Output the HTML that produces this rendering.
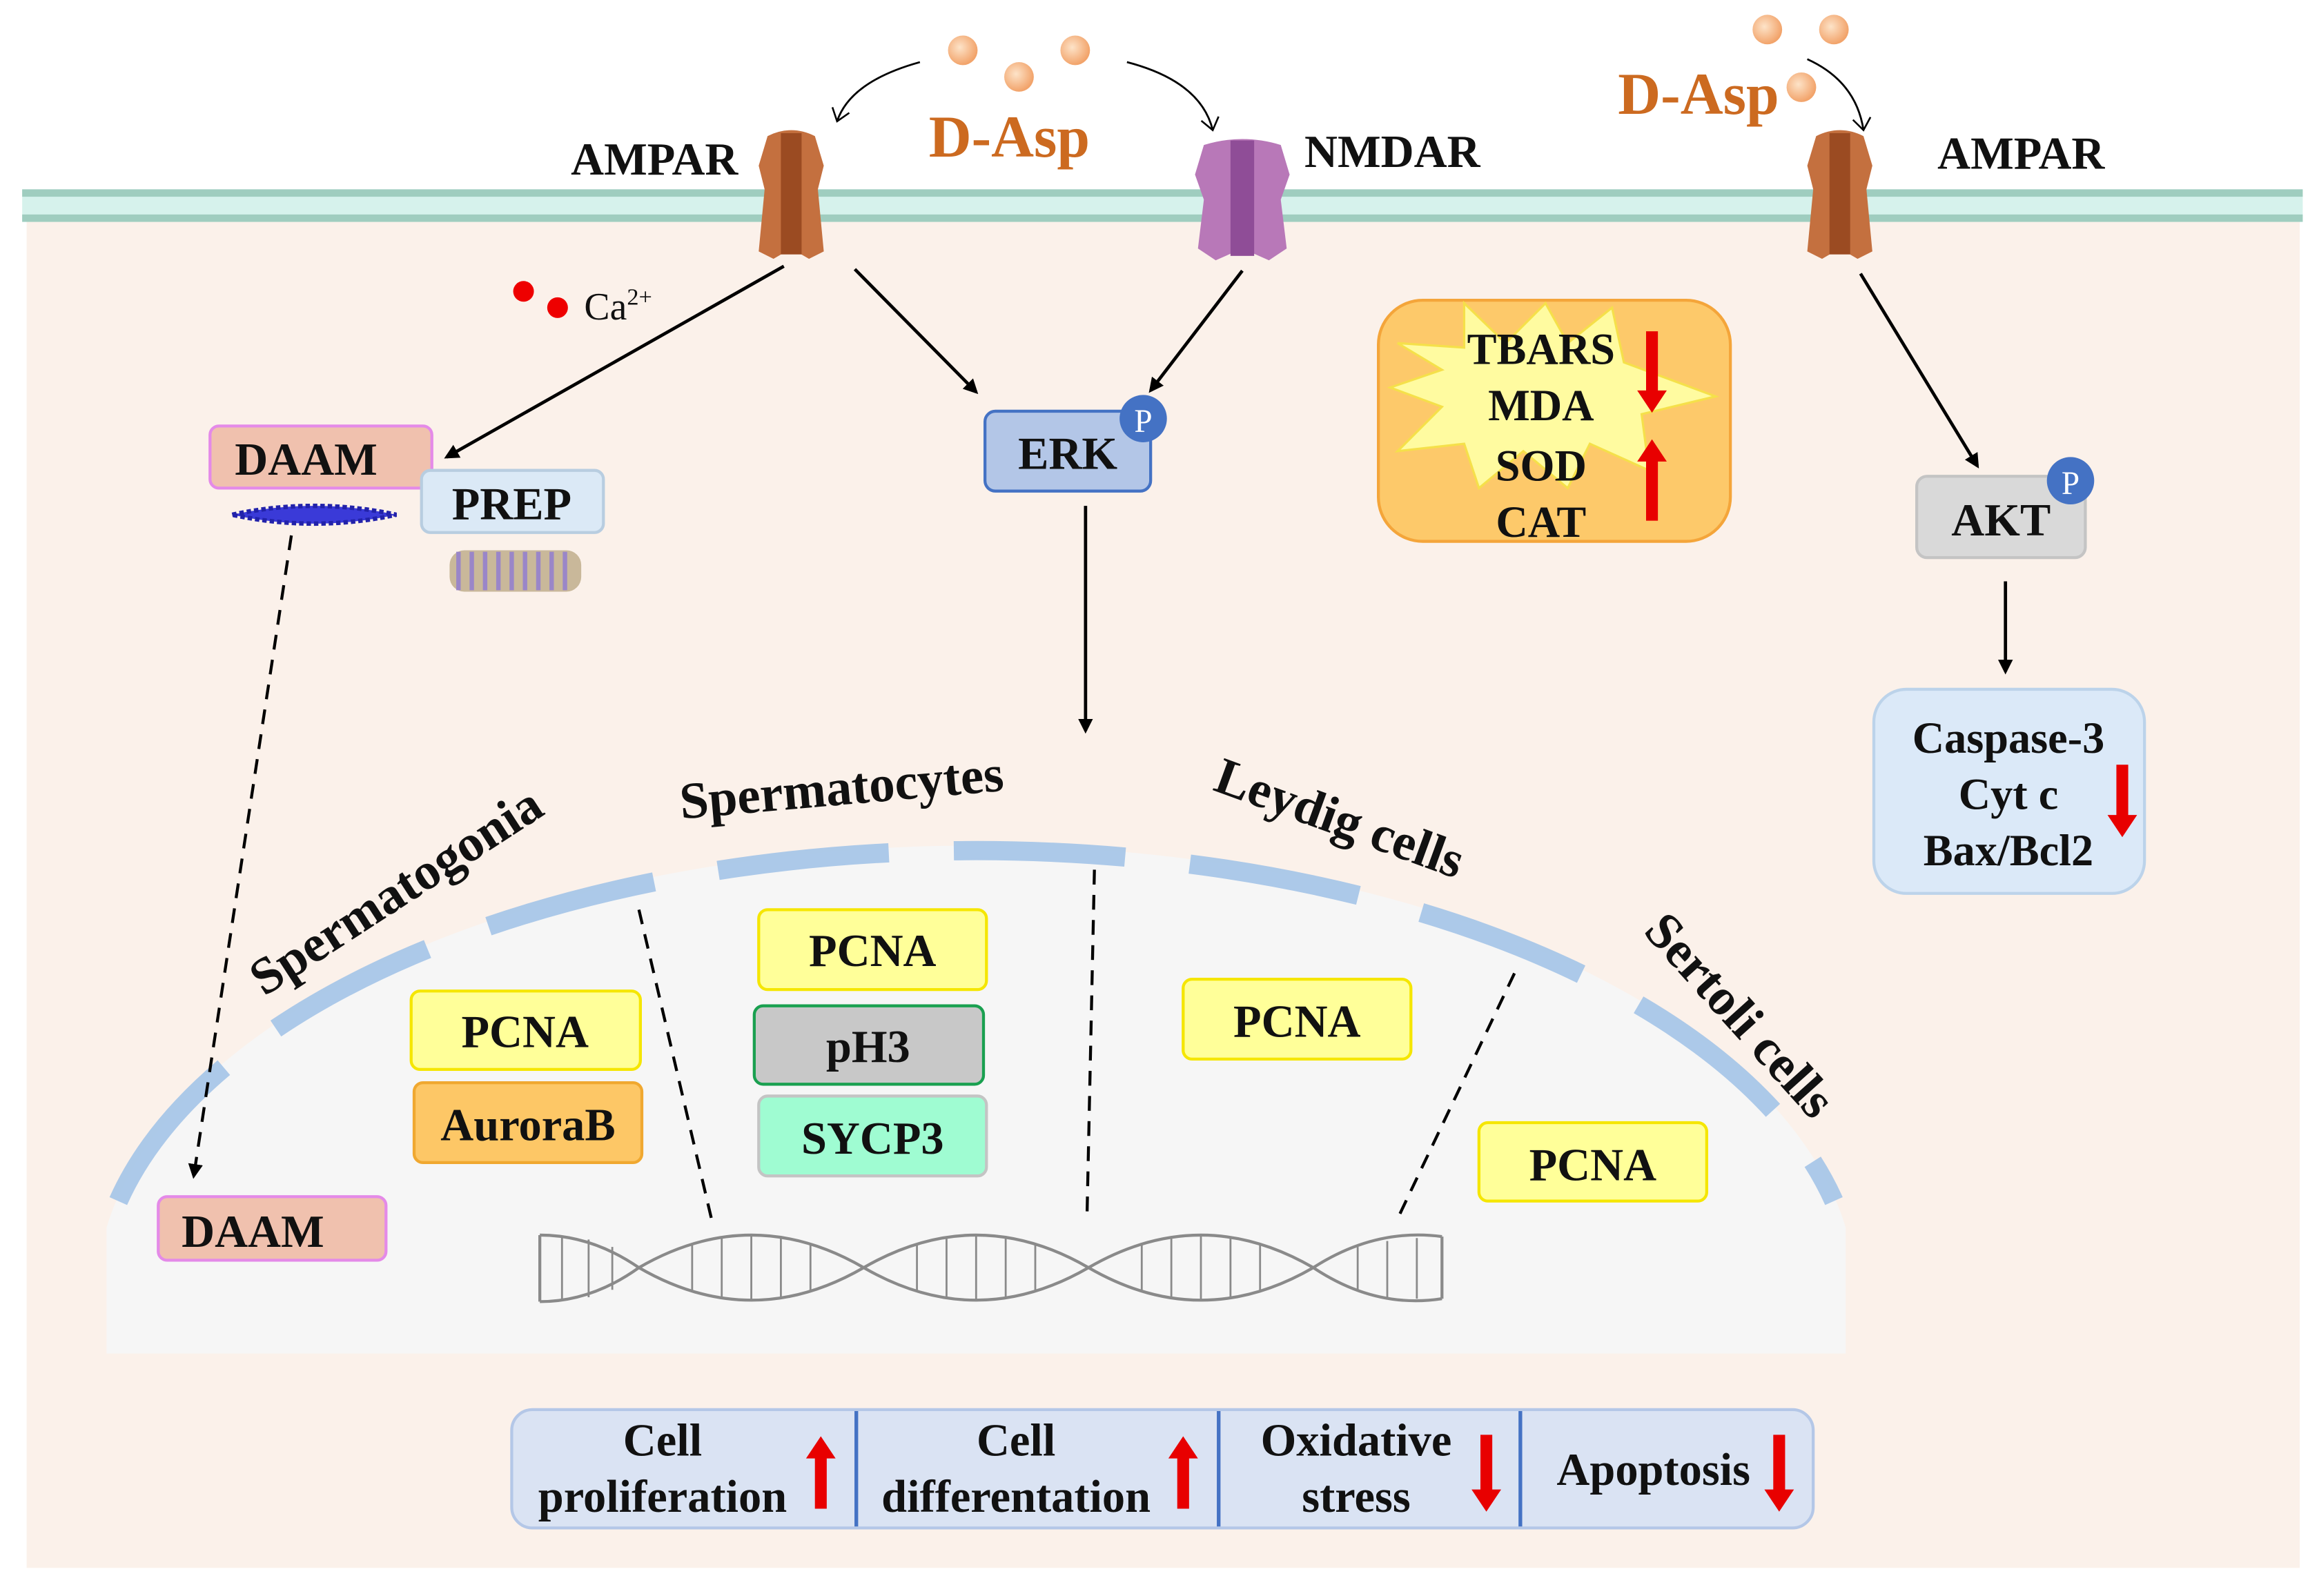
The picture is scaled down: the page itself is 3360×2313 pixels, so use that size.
<!DOCTYPE html>
<html><head><meta charset="utf-8"><style>
html,body{margin:0;padding:0;background:#fff}
svg{display:block}
text{font-family:"Liberation Serif",serif;font-weight:bold;fill:#111}
</style></head><body>
<svg width="3360" height="2313" viewBox="0 0 1568 1079" preserveAspectRatio="none" xmlns="http://www.w3.org/2000/svg">
<defs>
<marker id="ah" markerWidth="10" markerHeight="10" refX="8" refY="5" orient="auto" markerUnits="userSpaceOnUse"><path d="M0,0 L10,5 L0,10 Z" fill="#000"/></marker>
<marker id="ah2" markerWidth="14" markerHeight="14" refX="10" refY="7" orient="auto" markerUnits="userSpaceOnUse"><path d="M2,1 L10,7 L2,13" fill="none" stroke="#000" stroke-width="1.2"/></marker>
<radialGradient id="ball" cx="0.4" cy="0.4" r="0.6"><stop offset="0" stop-color="#fde3c8"/><stop offset="1" stop-color="#f2a36a"/></radialGradient>
</defs>
<rect x="0" y="0" width="1568" height="1079" fill="#fff"/>
<rect x="18" y="145" width="1537" height="915" fill="#fbf1ea"/>
<rect x="15" y="128" width="1542" height="22" fill="#d6f2ec"/>
<rect x="15" y="128" width="1542" height="5" fill="#9fcdbf"/>
<rect x="15" y="145" width="1542" height="5" fill="#9fcdbf"/>
<g fill="url(#ball)"><circle cx="651" cy="34" r="10"/><circle cx="689" cy="52" r="10"/><circle cx="727" cy="34" r="10"/><circle cx="1195" cy="20" r="10"/><circle cx="1240" cy="20" r="10"/><circle cx="1218" cy="59" r="10"/></g>
<g fill="none" stroke="#000" stroke-width="1.3" marker-end="url(#ah2)">
<path d="M622,42 Q575,55 566,82"/><path d="M762,42 Q812,55 820,88"/><path d="M1222,40 Q1255,55 1260,88"/>
</g>
<text x="628" y="106" font-size="40" style="fill:#cc6a20">D-Asp</text>
<text x="1094" y="77" font-size="40" style="fill:#cc6a20">D-Asp</text>
<text x="386" y="118" font-size="31">AMPAR</text>
<text x="882" y="113" font-size="31">NMDAR</text>
<text x="1310" y="114" font-size="31">AMPAR</text>
<g>
<path d="M519,92 Q535,84 551,92 L557,112 L553,128 L557,170 L547,175 L535,168 L523,175 L513,170 L517,128 L513,112 Z" fill="#c4703f"/>
<rect x="528" y="90" width="14" height="82" fill="#9b4b22"/>
<path d="M814,98 Q840,90 866,98 L872,118 L866,135 L870,168 L858,176 L840,168 L822,176 L810,168 L814,135 L808,118 Z" fill="#b878b8"/>
<rect x="832" y="95" width="16" height="78" fill="#8f4d97"/>
<path d="M1228,92 Q1244,84 1260,92 L1266,112 L1262,128 L1266,170 L1256,175 L1244,168 L1232,175 L1222,170 L1226,128 L1222,112 Z" fill="#c4703f"/>
<rect x="1237" y="90" width="14" height="82" fill="#9b4b22"/>
</g>
<circle cx="354" cy="197" r="7" fill="#e00"/><circle cx="377" cy="208" r="7" fill="#e00"/>
<text x="395" y="216" font-size="26" style="font-weight:normal">Ca<tspan font-size="16" dy="-10">2+</tspan></text>
<g stroke="#000" stroke-width="2.2" fill="none" marker-end="url(#ah)">
<line x1="530" y1="180" x2="302" y2="309"/>
<line x1="578" y1="182" x2="660" y2="265"/>
<line x1="840" y1="183" x2="778" y2="264"/>
<line x1="734" y1="342" x2="734" y2="494"/>
<line x1="1258" y1="185" x2="1337" y2="315"/>
<line x1="1356" y1="393" x2="1356" y2="454"/>
</g>
<rect x="666" y="278" width="112" height="54" rx="7" fill="#b3c6e7" stroke="#4472c4" stroke-width="2"/>
<text x="722" y="317" font-size="31" text-anchor="middle">ERK</text>
<circle cx="773" cy="283" r="16" fill="#4472c4"/><text x="773" y="292" font-size="22" text-anchor="middle" style="fill:#fff;font-weight:normal">P</text>
<rect x="142" y="288" width="150" height="42" rx="6" fill="#f0c1ae" stroke="#e48ae8" stroke-width="2"/>
<text x="207" y="321" font-size="31" text-anchor="middle">DAAM</text>
<rect x="285" y="318" width="123" height="42" rx="6" fill="#dbe9f6" stroke="#b8cde0" stroke-width="2"/>
<text x="346" y="351" font-size="31" text-anchor="middle">PREP</text>
<path d="M157,348 Q212,336 268,348 Q212,360 157,348 Z" fill="#3a3ad8" stroke="#2222aa" stroke-width="3" stroke-dasharray="3 2"/>
<rect x="304" y="372" width="89" height="28" rx="10" fill="#c9b89a"/>
<g stroke="#9a86c8" stroke-width="3">
<line x1="310" y1="373" x2="310" y2="399"/><line x1="319" y1="373" x2="319" y2="399"/><line x1="328" y1="373" x2="328" y2="399"/><line x1="337" y1="373" x2="337" y2="399"/><line x1="346" y1="373" x2="346" y2="399"/><line x1="355" y1="373" x2="355" y2="399"/><line x1="364" y1="373" x2="364" y2="399"/><line x1="373" y1="373" x2="373" y2="399"/><line x1="382" y1="373" x2="382" y2="399"/></g>
<rect x="932" y="203" width="238" height="163" rx="30" fill="#fdc96a" stroke="#f4a53a" stroke-width="2"/>
<path d="M945,232 L990,235 L990,205 L1018,232 L1045,205 L1060,232 L1090,208 L1098,245 L1160,268 L1110,280 L1115,318 L1075,300 L1060,330 L1030,305 L1000,330 L990,300 L945,305 L975,275 L940,262 L975,250 Z" fill="#fffba0" stroke="#f5e04a" stroke-width="1.5"/>
<text x="1042" y="246" font-size="30" text-anchor="middle">TBARS</text>
<text x="1042" y="284" font-size="30" text-anchor="middle">MDA</text>
<text x="1042" y="325" font-size="30" text-anchor="middle">SOD</text>
<text x="1042" y="363" font-size="30" text-anchor="middle">CAT</text>
<g fill="#e80000">
<path d="M1113,224 h8 v40 h6 l-10,15 l-10,-15 h6 Z"/>
<path d="M1113,352 h8 v-40 h6 l-10,-15 l-10,15 h6 Z"/>
</g>
<rect x="1296" y="322" width="114" height="55" rx="7" fill="#d9d9d9" stroke="#c4c4c4" stroke-width="2"/>
<text x="1353" y="362" font-size="31" text-anchor="middle">AKT</text>
<circle cx="1400" cy="325" r="16" fill="#4472c4"/><text x="1400" y="334" font-size="22" text-anchor="middle" style="fill:#fff;font-weight:normal">P</text>
<rect x="1267" y="466" width="183" height="138" rx="22" fill="#dbe9f8" stroke="#bcd3ea" stroke-width="2"/>
<text x="1358" y="509" font-size="30" text-anchor="middle">Caspase-3</text>
<text x="1358" y="547" font-size="30" text-anchor="middle">Cyt c</text>
<text x="1358" y="585" font-size="30" text-anchor="middle">Bax/Bcl2</text>
<path d="M1431,517 h8 v34 h6 l-10,15 l-10,-15 h6 Z" fill="#e80000"/>
<path d="M72,915 L72,830 A595 305 0 0 1 1248,830 L1248,915 Z" fill="#f6f6f6"/>
<path d="M80,812 A595 305 0 0 1 1240,812" fill="none" stroke="#a8c6e8" stroke-width="13" stroke-dasharray="116 44" opacity="0.95"/>
<text transform="translate(274,612) rotate(-33)" font-size="35" text-anchor="middle">Spermatogonia</text>
<text transform="translate(570,544) rotate(-5)" font-size="35" text-anchor="middle">Spermatocytes</text>
<text transform="translate(902,564) rotate(20)" font-size="35" text-anchor="middle">Leydig cells</text>
<text transform="translate(1168,694) rotate(48)" font-size="35" text-anchor="middle">Sertoli cells</text>
<g stroke="#000" stroke-width="2" stroke-dasharray="10 7" fill="none">
<line x1="197" y1="362" x2="131" y2="795" marker-end="url(#ah)"/>
<line x1="432" y1="615" x2="482" y2="828"/>
<line x1="740" y1="588" x2="735" y2="822"/>
<line x1="1024" y1="658" x2="944" y2="826"/>
</g>
<g stroke-width="2">
<rect x="278" y="670" width="155" height="53" rx="6" fill="#ffff99" stroke="#f5e600"/>
<rect x="280" y="732" width="154" height="54" rx="6" fill="#fdc766" stroke="#f0a830"/>
<rect x="513" y="615" width="154" height="54" rx="6" fill="#ffff99" stroke="#f5e600"/>
<rect x="510" y="680" width="155" height="53" rx="6" fill="#c8c8c8" stroke="#1aa050"/>
<rect x="513" y="741" width="154" height="54" rx="6" fill="#9ffcd2" stroke="#c4c4c4"/>
<rect x="800" y="662" width="154" height="54" rx="6" fill="#ffff99" stroke="#f5e600"/>
<rect x="1000" y="759" width="154" height="53" rx="6" fill="#ffff99" stroke="#f5e600"/>
<rect x="107" y="809" width="154" height="43" rx="6" fill="#f0c1ae" stroke="#e48ae8"/>
</g>
<g font-size="31" text-anchor="middle">
<text x="355" y="708">PCNA</text>
<text x="357" y="771">AuroraB</text>
<text x="590" y="653">PCNA</text>
<text x="587" y="718">pH3</text>
<text x="590" y="780">SYCP3</text>
<text x="877" y="701">PCNA</text>
<text x="1077" y="798">PCNA</text>
<text x="171" y="843">DAAM</text>
</g>
<g fill="none" stroke="#8a8a8a" stroke-width="2">
<path d="M365,835 Q400,835 432,857 Q508,813 584,857 Q660,901 736,857 Q812,813 888,857 Q930,885 975,878"/>
<path d="M365,880 Q400,880 432,857 Q508,901 584,857 Q660,813 736,857 Q812,901 888,857 Q930,830 975,836"/>
<line x1="365" y1="835" x2="365" y2="880"/><line x1="975" y1="836" x2="975" y2="878"/>
<g stroke-width="1.3">
<line x1="380" y1="836" x2="380" y2="879"/><line x1="398" y1="838" x2="398" y2="877"/><line x1="414" y1="843" x2="414" y2="872"/>
<line x1="468" y1="841" x2="468" y2="873"/><line x1="488" y1="837" x2="488" y2="877"/><line x1="508" y1="835" x2="508" y2="879"/><line x1="528" y1="837" x2="528" y2="877"/><line x1="548" y1="841" x2="548" y2="873"/>
<line x1="620" y1="841" x2="620" y2="873"/><line x1="640" y1="837" x2="640" y2="877"/><line x1="660" y1="835" x2="660" y2="879"/><line x1="680" y1="837" x2="680" y2="877"/><line x1="700" y1="841" x2="700" y2="873"/>
<line x1="772" y1="841" x2="772" y2="873"/><line x1="792" y1="837" x2="792" y2="877"/><line x1="812" y1="835" x2="812" y2="879"/><line x1="832" y1="837" x2="832" y2="877"/><line x1="852" y1="841" x2="852" y2="873"/>
<line x1="918" y1="843" x2="918" y2="872"/><line x1="938" y1="839" x2="938" y2="877"/><line x1="958" y1="837" x2="958" y2="878"/>
</g></g>
<rect x="346" y="953" width="880" height="80" rx="14" fill="#dae3f3" stroke="#b4c7e7" stroke-width="2"/>
<g stroke="#4472c4" stroke-width="2.5"><line x1="579" y1="954" x2="579" y2="1032"/><line x1="824" y1="954" x2="824" y2="1032"/><line x1="1028" y1="954" x2="1028" y2="1032"/></g>
<g font-size="31" text-anchor="middle">
<text x="448" y="984">Cell</text><text x="448" y="1022">proliferation</text>
<text x="687" y="984">Cell</text><text x="687" y="1022">differentation</text>
<text x="917" y="984">Oxidative</text><text x="917" y="1022">stress</text>
<text x="1118" y="1004">Apoptosis</text>
</g>
<g fill="#e80000">
<path d="M551,1020 h8 v-34 h6 l-10,-15 l-10,15 h6 Z"/>
<path d="M796,1020 h8 v-34 h6 l-10,-15 l-10,15 h6 Z"/>
<path d="M1001,970 h8 v37 h6 l-10,15 l-10,-15 h6 Z"/>
<path d="M1199,970 h8 v37 h6 l-10,15 l-10,-15 h6 Z"/>
</g>
</svg>
</body></html>
